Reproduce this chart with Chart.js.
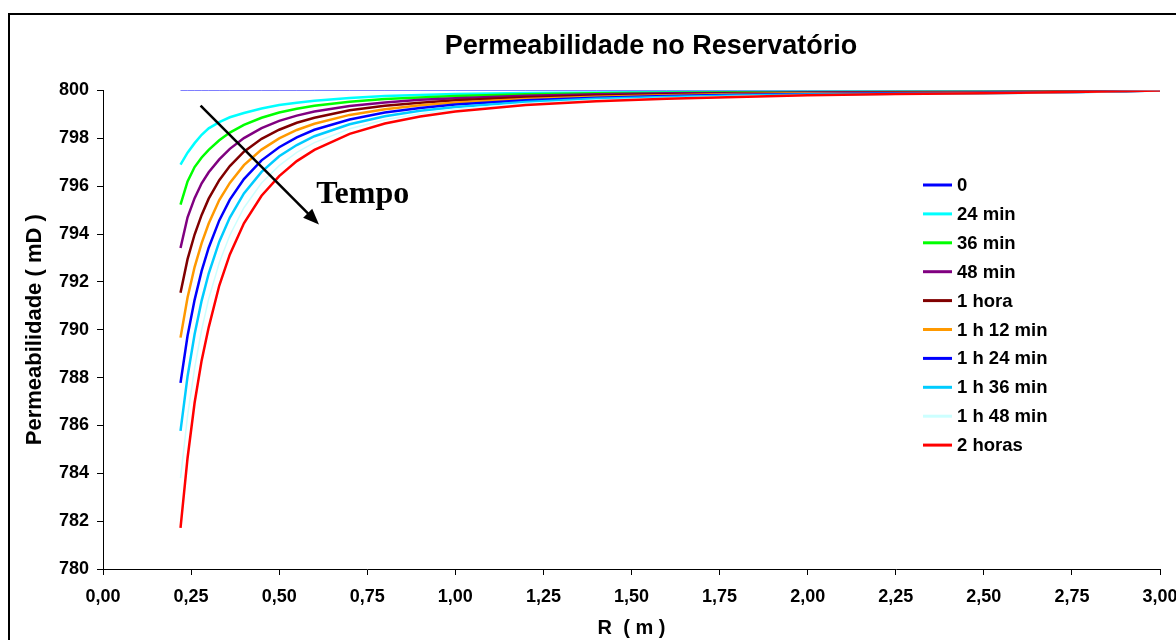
<!DOCTYPE html>
<html>
<head>
<meta charset="utf-8">
<script src="https://cdn.jsdelivr.net/npm/chart.js@4/dist/chart.umd.min.js"></script>
<style>
  html, body { margin: 0; padding: 0; background: #ffffff; }
  #wrap { width: 1176px; height: 640px; }
</style>
</head>
<body>
<div id="wrap"><canvas id="grafico" width="1176" height="640"></canvas></div>
<script>
// Raio (m)
const raios = [0.22, 0.24, 0.26, 0.28, 0.30, 0.33, 0.36, 0.40, 0.45, 0.50, 0.55, 0.60, 0.70,
               0.80, 0.90, 1.00, 1.20, 1.40, 1.60, 1.80, 2.00, 2.25, 2.50, 2.75, 3.00];

// Permeabilidade (mD) para cada tempo
const k0      = [800, 800, 800, 800, 800, 800, 800, 800, 800, 800, 800, 800, 800,
                 800, 800, 800, 800, 800, 800, 800, 800, 800, 800, 800, 800];
const k24min  = [796.90, 797.40, 797.80, 798.15, 798.42, 798.68, 798.88, 799.06, 799.25, 799.39, 799.49, 799.57, 799.69,
                 799.77, 799.81, 799.85, 799.90, 799.92, 799.94, 799.95, 799.96, 799.97, 799.98, 799.99, 800];
const k36min  = [795.23, 796.20, 796.80, 797.20, 797.52, 797.92, 798.24, 798.56, 798.86, 799.08, 799.24, 799.36, 799.53,
                 799.64, 799.71, 799.77, 799.84, 799.88, 799.91, 799.93, 799.94, 799.95, 799.96, 799.98, 800];
const k48min  = [793.42, 794.70, 795.50, 796.12, 796.58, 797.12, 797.56, 798.01, 798.43, 798.73, 798.95, 799.12, 799.35,
                 799.50, 799.61, 799.68, 799.78, 799.84, 799.88, 799.90, 799.92, 799.94, 799.95, 799.97, 800];
const k1h     = [791.55, 792.95, 793.98, 794.80, 795.48, 796.25, 796.84, 797.44, 797.98, 798.36, 798.65, 798.86, 799.17,
                 799.36, 799.49, 799.59, 799.72, 799.79, 799.84, 799.87, 799.90, 799.92, 799.93, 799.96, 800];
const k1h12   = [789.67, 791.35, 792.62, 793.62, 794.44, 795.42, 796.14, 796.88, 797.53, 798.00, 798.35, 798.61, 798.98,
                 799.22, 799.38, 799.50, 799.65, 799.74, 799.80, 799.85, 799.88, 799.90, 799.92, 799.95, 800];
const k1h24   = [787.78, 789.75, 791.25, 792.46, 793.43, 794.57, 795.44, 796.30, 797.08, 797.63, 798.04, 798.36, 798.79,
                 799.08, 799.27, 799.41, 799.59, 799.70, 799.77, 799.82, 799.85, 799.88, 799.91, 799.94, 800];
const k1h36   = [785.77, 788.05, 789.81, 791.22, 792.35, 793.68, 794.69, 795.70, 796.60, 797.25, 797.72, 798.09, 798.59,
                 798.92, 799.15, 799.31, 799.52, 799.65, 799.73, 799.79, 799.83, 799.86, 799.89, 799.93, 800];
const k1h48   = [783.80, 786.40, 788.40, 790.00, 791.29, 792.80, 793.95, 795.10, 796.13, 796.86, 797.41, 797.82, 798.40,
                 798.78, 799.03, 799.22, 799.46, 799.60, 799.69, 799.76, 799.80, 799.84, 799.88, 799.92, 800];
const k2h     = [781.72, 784.64, 786.95, 788.72, 790.10, 791.85, 793.15, 794.45, 795.60, 796.42, 797.05, 797.52, 798.19,
                 798.62, 798.91, 799.12, 799.39, 799.55, 799.65, 799.73, 799.80, 799.85, 799.88, 799.94, 800];

const rotulos = ['0', '24 min', '36 min', '48 min', '1 hora', '1 h 12 min', '1 h 24 min', '1 h 36 min', '1 h 48 min', '2 horas'];
const series  = [k0, k24min, k36min, k48min, k1h, k1h12, k1h24, k1h36, k1h48, k2h];
const cores   = ['#0000FF', '#00FFFF', '#00FF00', '#800080', '#800000', '#FF9900', '#0000FF', '#00CCFF', '#CCFFFF', '#FF0000'];
const espessuras = [1, 2.5, 2.5, 2.5, 2.5, 2.5, 2.5, 2.5, 1.5, 2.5];

// Eixos
const eixoX = { min: 0, max: 3, passo: 0.25 };
const eixoY = { min: 780, max: 800, passo: 2 };

const virgula = v => Number(v).toFixed(2).replace('.', ',');
const FONTE = '"Liberation Sans", Arial, sans-serif';

const datasets = series.map((vals, i) => ({
  label: rotulos[i],
  data: raios.map((r, j) => ({ x: r, y: vals[j] })),
  borderColor: cores[i],
  backgroundColor: cores[i],
  borderWidth: espessuras[i],
  pointRadius: 0,
  tension: 0,
  fill: false,
  order: series.length - i
}));

// Moldura, título, legenda e a seta "Tempo"
const decoracao = {
  id: 'decoracao',
  afterDraw(chart) {
    const ctx = chart.ctx;
    const sx = chart.scales.x, sy = chart.scales.y;
    ctx.save();

    // moldura do gráfico
    ctx.strokeStyle = '#000';
    ctx.lineWidth = 2;
    ctx.strokeRect(9, 14, 1200, 700);

    // título
    ctx.fillStyle = '#000';
    ctx.font = 'bold 27px ' + FONTE;
    ctx.textAlign = 'center';
    ctx.textBaseline = 'middle';
    ctx.fillText('Permeabilidade no Reservatório', 651, 47);

    // legenda
    ctx.font = 'bold 18.5px ' + FONTE;
    ctx.textAlign = 'left';
    chart.data.datasets.forEach((ds, i) => {
      const y = 185 + i * 28.9;
      ctx.strokeStyle = ds.borderColor;
      ctx.lineWidth = 3;
      ctx.beginPath();
      ctx.moveTo(923, y);
      ctx.lineTo(952, y);
      ctx.stroke();
      ctx.fillStyle = '#000';
      ctx.fillText(ds.label, 957, y + 1);
    });

    // seta indicando o avanço do tempo
    const x1 = sx.getPixelForValue(0.277), y1 = sy.getPixelForValue(799.37);
    const x2 = sx.getPixelForValue(0.613), y2 = sy.getPixelForValue(794.40);
    const ang = Math.atan2(y2 - y1, x2 - x1);
    const cab = 16;
    ctx.strokeStyle = '#000';
    ctx.fillStyle = '#000';
    ctx.lineWidth = 2.5;
    ctx.beginPath();
    ctx.moveTo(x1, y1);
    ctx.lineTo(x2 - Math.cos(ang) * cab * 0.8, y2 - Math.sin(ang) * cab * 0.8);
    ctx.stroke();
    ctx.beginPath();
    ctx.moveTo(x2, y2);
    ctx.lineTo(x2 - Math.cos(ang) * cab - Math.sin(ang) * cab * 0.4,
               y2 - Math.sin(ang) * cab + Math.cos(ang) * cab * 0.4);
    ctx.lineTo(x2 - Math.cos(ang) * cab + Math.sin(ang) * cab * 0.4,
               y2 - Math.sin(ang) * cab - Math.cos(ang) * cab * 0.4);
    ctx.closePath();
    ctx.fill();

    ctx.font = 'bold 32px "Liberation Serif", "Times New Roman", serif';
    ctx.textAlign = 'left';
    ctx.textBaseline = 'alphabetic';
    ctx.fillText('Tempo', sx.getPixelForValue(0.605), sy.getPixelForValue(795.30));

    ctx.restore();
  }
};

new Chart(document.getElementById('grafico'), {
  type: 'line',
  data: { datasets },
  plugins: [decoracao],
  options: {
    responsive: false,
    animation: false,
    devicePixelRatio: 1,
    layout: { padding: { top: 90.5, right: 16, bottom: 0, left: 0 } },
    plugins: { legend: { display: false }, title: { display: false }, tooltip: { enabled: false } },
    scales: {
      x: {
        type: 'linear',
        min: eixoX.min, max: eixoX.max,
        afterFit(s) { s.height = 71; s.paddingRight = 0; s.paddingLeft = 0; },
        ticks: {
          stepSize: eixoX.passo,
          color: '#000',
          padding: 11,
          maxRotation: 0,
          autoSkip: false,
          font: { family: FONTE, size: 18, weight: 'bold' },
          callback: v => virgula(v)
        },
        grid: { display: true, drawOnChartArea: false, drawTicks: true, tickLength: 6, color: '#000', lineWidth: 1 },
        border: { display: true, color: '#000', width: 1 },
        title: {
          display: true, text: 'R  ( m )', color: '#000',
          font: { family: FONTE, size: 20, weight: 'bold' },
          padding: { top: 7, bottom: 0 }
        }
      },
      y: {
        min: eixoY.min, max: eixoY.max,
        afterFit(s) { s.width = 103; s.paddingTop = 0; s.paddingBottom = 0; },
        ticks: {
          stepSize: eixoY.passo,
          color: '#000',
          padding: 8,
          font: { family: FONTE, size: 18, weight: 'bold' }
        },
        grid: { display: true, drawOnChartArea: false, drawTicks: true, tickLength: 6, color: '#000', lineWidth: 1 },
        border: { display: true, color: '#000', width: 1 },
        title: {
          display: true, text: 'Permeabilidade ( mD )', color: '#000',
          font: { family: FONTE, size: 22, weight: 'bold' },
          padding: { top: 22, bottom: 0 }
        }
      }
    }
  }
});
</script>
</body>
</html>
